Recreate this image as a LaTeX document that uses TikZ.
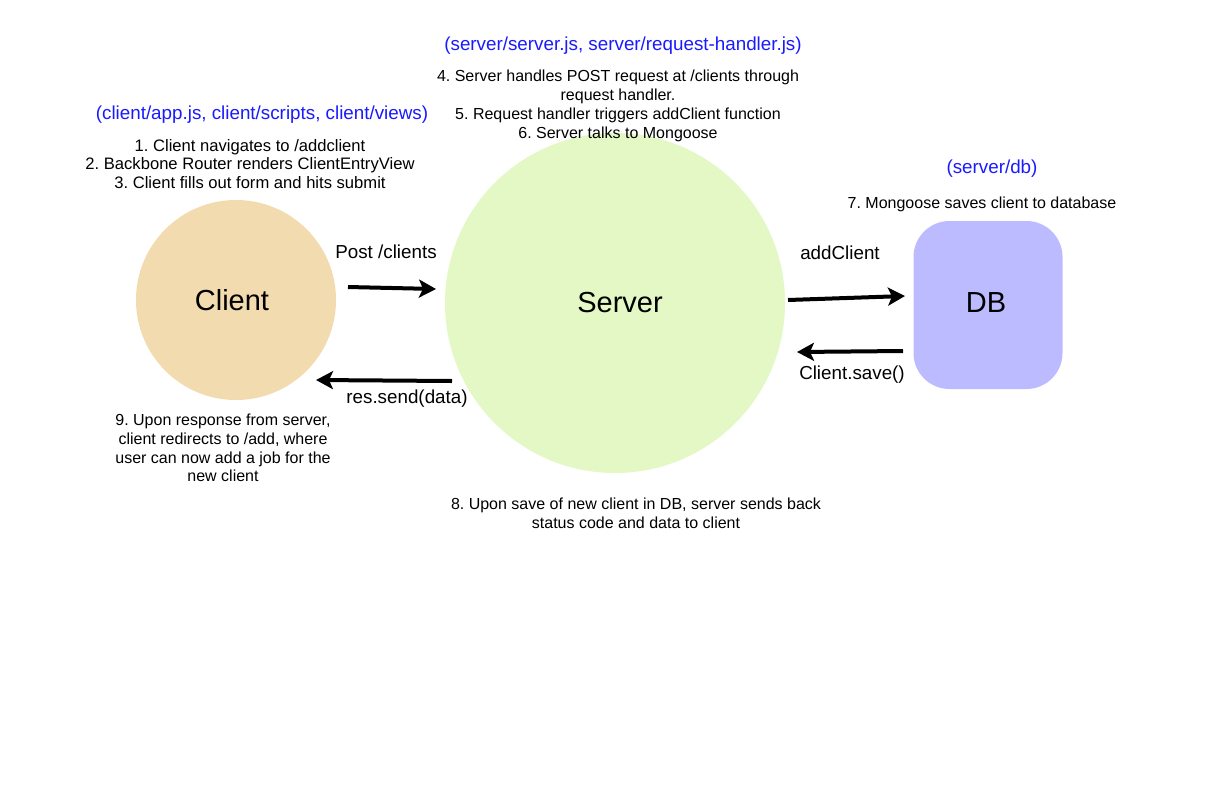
\documentclass[tikz,border=0pt]{standalone}
\usepackage{fontspec}
\setmainfont{Liberation Sans}
\usetikzlibrary{arrows.meta}
\definecolor{clientfill}{HTML}{F2DBAE}
\definecolor{serverfill}{HTML}{E3F8C4}
\definecolor{dbfill}{HTML}{BDBBFF}
\definecolor{pathblue}{HTML}{1A1AFF}

\tikzset{
  note/.style={align=center, inner sep=0pt, font=\fontsize{#1}{18.8}\selectfont},
  note/.default=16,
  files/.style={inner sep=0pt, text=pathblue, font=\fontsize{18.8}{22}\selectfont},
  call/.style={inner sep=0pt, font=\fontsize{18.8}{22}\selectfont},
  big/.style={inner sep=0pt, font=\fontsize{29}{34}\selectfont},
  flow/.style={line width=4pt, -{Stealth[length=17pt,width=18pt,inset=4pt]}}
}

\begin{document}
\frenchspacing
\begin{tikzpicture}[x=1pt, y=-1pt]
    \fill [white] (0,0) rectangle (1220,788);
    \useasboundingbox (0,0) rectangle (1220,788);

    % the three parts
    \node[circle, fill=clientfill, minimum size=200pt, inner sep=0pt] (client) at (236,300) {};
    \node[circle, fill=serverfill, minimum size=340pt, inner sep=0pt] (server) at (615,303) {};
    \node[rounded corners=36pt, fill=dbfill, minimum width=149pt, minimum height=168pt, inner sep=0pt] (db) at (988,305) {};
    \node[big] (client label) at (232,300) {Client};
    \node[big] (server label) at (620,303) {Server};
    \node[big] (db label) at (986,303) {DB};

    % files
    \node[files] (client files) at (262,115) {(client/app.js, client/scripts, client/views)};
    \node[files] (server files) at (623,46) {(server/server.js, server/request-handler.js)};
    \node[files] (db files) at (992,169) {(server/db)};

    % steps
    \node[note=16.6] (client steps) at (250,164) {1. Client navigates to /addclient\\2. Backbone Router renders ClientEntryView\\3. Client fills out form and hits submit};
    \node[note, anchor=north] (server steps) at (618,70) {4. Server handles POST request at /clients through\\request handler.\\5. Request handler triggers addClient function\\6. Server talks to Mongoose};
    \node[note] (db steps) at (982,204) {7. Mongoose saves client to database};
    \node[note] (save steps) at (636,513) {8. Upon save of new client in DB, server sends back\\status code and data to client};
    \node[note] (response steps) at (223,448) {9. Upon response from server,\\client redirects to /add, where\\user can now add a job for the\\new client};

    % calls
    \coordinate (post a) at (348,287);
    \coordinate (post b) at (436,289);
    \coordinate (send a) at (452,381);
    \coordinate (send b) at (316,380);
    \coordinate (add a) at (788,300);
    \coordinate (add b) at (905,296);
    \coordinate (save a) at (903,351);
    \coordinate (save b) at (797,352);
    \draw[flow] (post a) -- (post b);
    \draw[flow] (send a) -- (send b);
    \draw[flow] (add a) -- (add b);
    \draw[flow] (save a) -- (save b);
    \node[call] (post label) at (386,252) {Post /clients};
    \node[call] (send label) at (407,399) {res.send(data)};
    \node[call] (add label) at (840,253) {addClient};
    \node[call] (save label) at (852,375) {Client.save()};
  \end{tikzpicture}
\end{document}
